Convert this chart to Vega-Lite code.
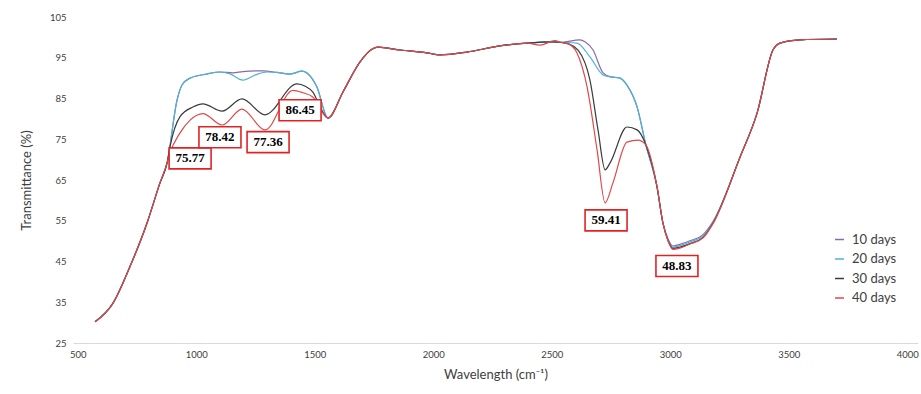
{
  "$schema": "https://vega.github.io/schema/vega-lite/v6.json",
  "width": 845,
  "height": 326,
  "autosize": {"type": "none"},
  "padding": {"left": 73, "top": 17, "right": 3, "bottom": 51},
  "background": "white",
  "config": {"view": {"stroke": null}, "font": "Lato"},
  "datasets": {
    "spectra": [
      {"s":"10 days","w":573,"t":30.2},{"s":"10 days","w":649,"t":34.8},{"s":"10 days","w":720,"t":43.7},{"s":"10 days","w":792,"t":54.4},{"s":"10 days","w":847,"t":64.3},{"s":"10 days","w":877,"t":69.2},{"s":"10 days","w":919,"t":84.6},{"s":"10 days","w":940,"t":88.3},{"s":"10 days","w":974,"t":90.0},{"s":"10 days","w":1045,"t":91.0},{"s":"10 days","w":1100,"t":91.5},{"s":"10 days","w":1155,"t":91.3},{"s":"10 days","w":1197,"t":91.6},{"s":"10 days","w":1282,"t":91.8},{"s":"10 days","w":1340,"t":91.4},{"s":"10 days","w":1396,"t":91.0},{"s":"10 days","w":1446,"t":91.7},{"s":"10 days","w":1493,"t":89.5},{"s":"10 days","w":1509,"t":87.8},{"s":"10 days","w":1556,"t":80.2},{"s":"10 days","w":1619,"t":86.6},{"s":"10 days","w":1691,"t":94.0},{"s":"10 days","w":1741,"t":97.1},{"s":"10 days","w":1767,"t":97.6},{"s":"10 days","w":1860,"t":96.9},{"s":"10 days","w":1973,"t":96.2},{"s":"10 days","w":2028,"t":95.7},{"s":"10 days","w":2142,"t":96.4},{"s":"10 days","w":2281,"t":97.9},{"s":"10 days","w":2395,"t":98.6},{"s":"10 days","w":2505,"t":98.9},{"s":"10 days","w":2535,"t":98.8},{"s":"10 days","w":2619,"t":99.4},{"s":"10 days","w":2640,"t":98.9},{"s":"10 days","w":2674,"t":96.9},{"s":"10 days","w":2716,"t":91.3},{"s":"10 days","w":2750,"t":90.3},{"s":"10 days","w":2788,"t":90.0},{"s":"10 days","w":2817,"t":88.3},{"s":"10 days","w":2860,"t":82.9},{"s":"10 days","w":2897,"t":73.6},{"s":"10 days","w":2944,"t":63.3},{"s":"10 days","w":2969,"t":54.4},{"s":"10 days","w":2990,"t":50.6},{"s":"10 days","w":3011,"t":48.8},{"s":"10 days","w":3040,"t":49.2},{"s":"10 days","w":3083,"t":50.1},{"s":"10 days","w":3138,"t":51.6},{"s":"10 days","w":3180,"t":54.8},{"s":"10 days","w":3294,"t":70.6},{"s":"10 days","w":3366,"t":81.4},{"s":"10 days","w":3433,"t":96.9},{"s":"10 days","w":3463,"t":98.6},{"s":"10 days","w":3547,"t":99.4},{"s":"10 days","w":3703,"t":99.6},

      {"s":"20 days","w":573,"t":30.2},{"s":"20 days","w":649,"t":34.8},{"s":"20 days","w":720,"t":43.7},{"s":"20 days","w":792,"t":54.4},{"s":"20 days","w":847,"t":64.3},{"s":"20 days","w":877,"t":69.2},{"s":"20 days","w":919,"t":84.6},{"s":"20 days","w":940,"t":88.3},{"s":"20 days","w":974,"t":90.0},{"s":"20 days","w":1045,"t":91.0},{"s":"20 days","w":1100,"t":91.5},{"s":"20 days","w":1140,"t":91.1},{"s":"20 days","w":1197,"t":89.5},{"s":"20 days","w":1250,"t":90.8},{"s":"20 days","w":1298,"t":91.5},{"s":"20 days","w":1340,"t":91.4},{"s":"20 days","w":1396,"t":91.0},{"s":"20 days","w":1446,"t":91.7},{"s":"20 days","w":1493,"t":89.5},{"s":"20 days","w":1509,"t":87.8},{"s":"20 days","w":1556,"t":80.2},{"s":"20 days","w":1619,"t":86.6},{"s":"20 days","w":1691,"t":94.0},{"s":"20 days","w":1741,"t":97.1},{"s":"20 days","w":1767,"t":97.6},{"s":"20 days","w":1860,"t":96.9},{"s":"20 days","w":1973,"t":96.2},{"s":"20 days","w":2028,"t":95.7},{"s":"20 days","w":2142,"t":96.4},{"s":"20 days","w":2281,"t":97.9},{"s":"20 days","w":2395,"t":98.6},{"s":"20 days","w":2505,"t":98.9},{"s":"20 days","w":2535,"t":98.8},{"s":"20 days","w":2606,"t":98.6},{"s":"20 days","w":2661,"t":95.2},{"s":"20 days","w":2716,"t":90.8},{"s":"20 days","w":2750,"t":90.3},{"s":"20 days","w":2788,"t":90.0},{"s":"20 days","w":2817,"t":88.3},{"s":"20 days","w":2860,"t":82.9},{"s":"20 days","w":2897,"t":73.6},{"s":"20 days","w":2944,"t":63.3},{"s":"20 days","w":2969,"t":54.4},{"s":"20 days","w":2990,"t":50.4},{"s":"20 days","w":3011,"t":48.5},{"s":"20 days","w":3040,"t":48.9},{"s":"20 days","w":3083,"t":49.8},{"s":"20 days","w":3138,"t":51.3},{"s":"20 days","w":3180,"t":54.6},{"s":"20 days","w":3294,"t":70.6},{"s":"20 days","w":3366,"t":81.4},{"s":"20 days","w":3433,"t":96.9},{"s":"20 days","w":3463,"t":98.6},{"s":"20 days","w":3547,"t":99.4},{"s":"20 days","w":3703,"t":99.6},

      {"s":"30 days","w":573,"t":30.2},{"s":"30 days","w":649,"t":34.8},{"s":"30 days","w":720,"t":43.7},{"s":"30 days","w":792,"t":54.4},{"s":"30 days","w":847,"t":64.3},{"s":"30 days","w":877,"t":69.2},{"s":"30 days","w":889,"t":73.1},{"s":"30 days","w":931,"t":80.5},{"s":"30 days","w":986,"t":82.9},{"s":"30 days","w":1028,"t":83.7},{"s":"30 days","w":1109,"t":81.9},{"s":"30 days","w":1193,"t":84.9},{"s":"30 days","w":1290,"t":81.0},{"s":"30 days","w":1425,"t":88.6},{"s":"30 days","w":1460,"t":88.0},{"s":"30 days","w":1493,"t":86.5},{"s":"30 days","w":1522,"t":83.0},{"s":"30 days","w":1556,"t":80.2},{"s":"30 days","w":1619,"t":86.6},{"s":"30 days","w":1691,"t":94.0},{"s":"30 days","w":1741,"t":97.1},{"s":"30 days","w":1767,"t":97.6},{"s":"30 days","w":1860,"t":96.9},{"s":"30 days","w":1973,"t":96.2},{"s":"30 days","w":2028,"t":95.7},{"s":"30 days","w":2142,"t":96.4},{"s":"30 days","w":2281,"t":97.9},{"s":"30 days","w":2395,"t":98.6},{"s":"30 days","w":2505,"t":98.9},{"s":"30 days","w":2535,"t":98.8},{"s":"30 days","w":2570,"t":98.4},{"s":"30 days","w":2611,"t":96.9},{"s":"30 days","w":2661,"t":89.5},{"s":"30 days","w":2695,"t":77.3},{"s":"30 days","w":2725,"t":67.5},{"s":"30 days","w":2746,"t":69.2},{"s":"30 days","w":2817,"t":78.0},{"s":"30 days","w":2860,"t":77.3},{"s":"30 days","w":2897,"t":73.6},{"s":"30 days","w":2944,"t":63.3},{"s":"30 days","w":2969,"t":54.4},{"s":"30 days","w":2990,"t":50.2},{"s":"30 days","w":3011,"t":48.2},{"s":"30 days","w":3040,"t":48.5},{"s":"30 days","w":3083,"t":49.4},{"s":"30 days","w":3138,"t":50.9},{"s":"30 days","w":3180,"t":54.4},{"s":"30 days","w":3294,"t":70.6},{"s":"30 days","w":3366,"t":81.4},{"s":"30 days","w":3433,"t":96.9},{"s":"30 days","w":3463,"t":98.6},{"s":"30 days","w":3547,"t":99.4},{"s":"30 days","w":3703,"t":99.6},

      {"s":"40 days","w":573,"t":30.2},{"s":"40 days","w":649,"t":34.8},{"s":"40 days","w":720,"t":43.7},{"s":"40 days","w":792,"t":54.4},{"s":"40 days","w":847,"t":64.3},{"s":"40 days","w":877,"t":69.2},{"s":"40 days","w":889,"t":71.6},{"s":"40 days","w":931,"t":76.5},{"s":"40 days","w":974,"t":79.7},{"s":"40 days","w":1028,"t":81.3},{"s":"40 days","w":1109,"t":78.5},{"s":"40 days","w":1193,"t":82.4},{"s":"40 days","w":1290,"t":77.3},{"s":"40 days","w":1408,"t":87.0},{"s":"40 days","w":1450,"t":86.4},{"s":"40 days","w":1493,"t":85.3},{"s":"40 days","w":1522,"t":82.5},{"s":"40 days","w":1556,"t":80.2},{"s":"40 days","w":1619,"t":86.6},{"s":"40 days","w":1691,"t":94.0},{"s":"40 days","w":1741,"t":97.1},{"s":"40 days","w":1767,"t":97.6},{"s":"40 days","w":1860,"t":96.9},{"s":"40 days","w":1973,"t":96.2},{"s":"40 days","w":2028,"t":95.7},{"s":"40 days","w":2142,"t":96.4},{"s":"40 days","w":2281,"t":97.9},{"s":"40 days","w":2395,"t":98.6},{"s":"40 days","w":2450,"t":98.1},{"s":"40 days","w":2514,"t":99.2},{"s":"40 days","w":2535,"t":98.8},{"s":"40 days","w":2570,"t":98.4},{"s":"40 days","w":2606,"t":96.2},{"s":"40 days","w":2649,"t":87.8},{"s":"40 days","w":2691,"t":72.4},{"s":"40 days","w":2725,"t":59.4},{"s":"40 days","w":2758,"t":64.3},{"s":"40 days","w":2817,"t":74.3},{"s":"40 days","w":2864,"t":74.8},{"s":"40 days","w":2897,"t":73.6},{"s":"40 days","w":2944,"t":63.3},{"s":"40 days","w":2969,"t":54.4},{"s":"40 days","w":2990,"t":50.1},{"s":"40 days","w":3011,"t":48.0},{"s":"40 days","w":3040,"t":48.3},{"s":"40 days","w":3083,"t":49.3},{"s":"40 days","w":3138,"t":50.8},{"s":"40 days","w":3180,"t":54.3},{"s":"40 days","w":3294,"t":70.6},{"s":"40 days","w":3366,"t":81.4},{"s":"40 days","w":3433,"t":96.9},{"s":"40 days","w":3463,"t":98.6},{"s":"40 days","w":3547,"t":99.4},{"s":"40 days","w":3703,"t":99.6}
    ],
    "notes": [
      {"label":"75.77","w":974,"t":70.3},
      {"label":"78.42","w":1100,"t":75.5},
      {"label":"77.36","w":1303,"t":74.3},
      {"label":"86.45","w":1438,"t":82.1},
      {"label":"59.41","w":2729,"t":55.1},
      {"label":"48.83","w":3028,"t":43.9}
    ]
  },
  "layer": [
    {
      "data": {"name": "spectra"},
      "mark": {"type": "line", "interpolate": "monotone", "strokeWidth": 1.2},
      "encoding": {
        "x": {"field": "w", "type": "quantitative", "title": "Wavelength (cm⁻¹)",
          "scale": {"domain": [480, 4045], "nice": false, "zero": false},
          "axis": {"values": [500,1000,1500,2000,2500,3000,3500,4000], "format": "d", "grid": false, "ticks": false,
            "domainColor": "#d9d9d9", "domainWidth": 1, "labelFontSize": 9.5, "labelColor": "#404040",
            "labelPadding": 6, "labelFlush": false, "titleFontSize": 13, "titleFontWeight": "normal",
            "titleColor": "#404040", "titlePadding": 10}},
        "y": {"field": "t", "type": "quantitative", "title": "Transmittance (%)",
          "scale": {"domain": [25, 105], "nice": false, "zero": false},
          "axis": {"values": [25,35,45,55,65,75,85,95,105], "grid": false, "ticks": false, "domain": false,
            "labelFontSize": 9.5, "labelColor": "#404040", "labelPadding": 7,
            "titleFontSize": 13, "titleFontWeight": "normal", "titleColor": "#404040", "titlePadding": 16}},
        "color": {"field": "s", "type": "nominal",
          "scale": {"domain": ["10 days","20 days","30 days","40 days"], "range": ["#8a6aae","#4bb3d6","#3a3a3a","#e04848"]},
          "legend": {"title": null, "orient": "none", "legendX": 760, "legendY": 216, "symbolType": "stroke",
            "symbolStrokeWidth": 1.5, "symbolSize": 80, "labelFontSize": 13, "labelColor": "#404040",
            "rowPadding": 5.5, "labelOffset": 6}}
      }
    },
    {
      "data": {"name": "notes"},
      "mark": {"type": "point", "shape": "M-1,-0.5L1,-0.5L1,0.5L-1,0.5Z", "size": 1764, "filled": true,
        "fill": "white", "stroke": "#e02424", "strokeWidth": 1.6, "opacity": 1},
      "encoding": {
        "x": {"field": "w", "type": "quantitative", "title": "Wavelength (cm⁻¹)"},
        "y": {"field": "t", "type": "quantitative", "title": "Transmittance (%)"}
      }
    },
    {
      "data": {"name": "notes"},
      "mark": {"type": "text", "font": "Liberation Serif", "fontWeight": "bold", "fontSize": 13, "color": "black"},
      "encoding": {
        "x": {"field": "w", "type": "quantitative", "title": "Wavelength (cm⁻¹)"},
        "y": {"field": "t", "type": "quantitative", "title": "Transmittance (%)"},
        "text": {"field": "label"}
      }
    }
  ]
}
